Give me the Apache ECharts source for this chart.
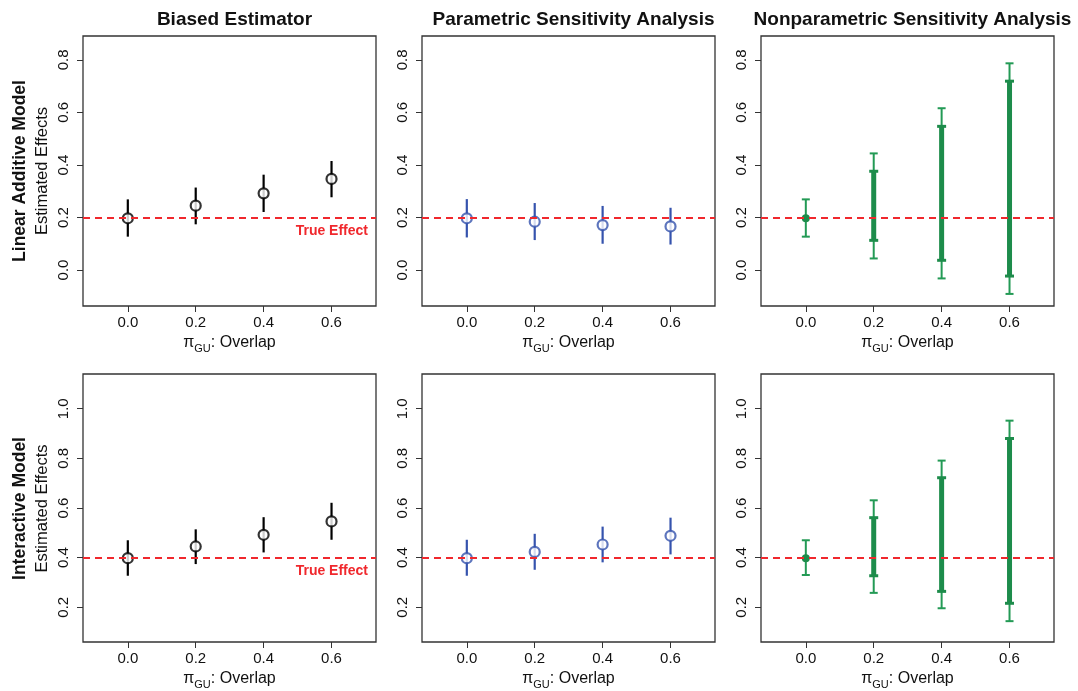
<!DOCTYPE html>
<html>
<head>
<meta charset="utf-8">
<title>Sensitivity analysis of estimated effects</title>
<script src="https://cdn.jsdelivr.net/npm/echarts@6/dist/echarts.min.js"></script>
<style>
  html, body { margin: 0; padding: 0; background: #fff; }
  #chart { width: 1078px; height: 691px; }
</style>
</head>
<body>
<div id="chart"></div>
<script>
// Overlap values on the x axis and tick labels
const overlap = [0, 0.2, 0.4, 0.6];
const xTicks = [0, 0.2, 0.4, 0.6];
const yTicksLinear = [0, 0.2, 0.4, 0.6, 0.8];
const yTicksInteractive = [0.2, 0.4, 0.6, 0.8, 1.0];

// True effects
const trueLinear = 0.2;
const trueInteractive = 0.4;

// Linear additive model
const biasedLinEst = [0.197, 0.245, 0.292, 0.347];
const biasedLinLo  = [0.127, 0.174, 0.221, 0.277];
const biasedLinHi  = [0.269, 0.314, 0.363, 0.415];

const paramLinEst = [0.197, 0.184, 0.171, 0.166];
const paramLinLo  = [0.124, 0.114, 0.100, 0.097];
const paramLinHi  = [0.270, 0.255, 0.244, 0.237];

const nonparLinOuterLo = [0.127, 0.044, -0.032, -0.091];
const nonparLinOuterHi = [0.269, 0.444, 0.616, 0.787];
const nonparLinInnerLo = [0.197, 0.113, 0.037, -0.023];
const nonparLinInnerHi = [0.197, 0.376, 0.547, 0.719];

// Interactive model
const biasedIntEst = [0.398, 0.445, 0.492, 0.546];
const biasedIntLo  = [0.327, 0.374, 0.421, 0.472];
const biasedIntHi  = [0.470, 0.514, 0.563, 0.621];

const paramIntEst = [0.398, 0.423, 0.453, 0.488];
const paramIntLo  = [0.327, 0.351, 0.381, 0.413];
const paramIntHi  = [0.472, 0.496, 0.525, 0.561];

const nonparIntOuterLo = [0.330, 0.258, 0.196, 0.144];
const nonparIntOuterHi = [0.470, 0.631, 0.791, 0.952];
const nonparIntInnerLo = [0.398, 0.327, 0.264, 0.216];
const nonparIntInnerHi = [0.398, 0.561, 0.722, 0.880];

const FONT = '"Liberation Sans", Arial, Helvetica, sans-serif';
const BLACK = '#000000';
const BLUE = '#3553ad';
const GREEN = '#1d8c4b';
const RED = '#f0282d';

const colLeft = [83, 422, 761];
const rowTop = [36, 374];
const panelW = 293;
const panelH = [270, 269];
const yRange = [[-0.137, 0.891], [0.06, 1.14]];

function triples(lo, hi) {
  return overlap.map((x, i) => [x, lo[i], hi[i]]);
}
function points(est) {
  return overlap.map((x, i) => [x, est[i]]);
}

// Vertical interval, optionally with end caps; a zero-width interval becomes a dot
function intervalRenderer(color, width, capHalf, capWidth) {
  return function (params, api) {
    const x = api.value(0), lo = api.value(1), hi = api.value(2);
    const p1 = api.coord([x, lo]);
    const p2 = api.coord([x, hi]);
    if (lo === hi) {
      return { type: 'circle', shape: { cx: p1[0], cy: p1[1], r: 4 },
               style: { fill: color } };
    }
    const children = [{
      type: 'line',
      shape: { x1: p1[0], y1: p1[1], x2: p2[0], y2: p2[1] },
      style: { stroke: color, lineWidth: width }
    }];
    if (capHalf > 0) {
      [p1, p2].forEach(p => children.push({
        type: 'line',
        shape: { x1: p[0] - capHalf, y1: p[1], x2: p[0] + capHalf, y2: p[1] },
        style: { stroke: color, lineWidth: capWidth }
      }));
    }
    return { type: 'group', children: children };
  };
}

const grids = [], xAxes = [], yAxes = [], series = [];

function addPanel(row, col) {
  const idx = grids.length;
  grids.push({
    left: colLeft[col], top: rowTop[row], width: panelW, height: panelH[row],
    show: true, borderColor: '#333', borderWidth: 1.3, backgroundColor: 'transparent'
  });
  xAxes.push({
    type: 'value', gridIndex: idx, min: -0.132, max: 0.731, position: 'bottom',
    axisLine: { show: false, onZero: false }, splitLine: { show: false },
    axisTick: { show: true, length: 6, customValues: xTicks, lineStyle: { color: '#333', width: 1 } },
    axisLabel: { customValues: xTicks, formatter: v => v.toFixed(1), fontSize: 15,
                 color: '#111', fontFamily: FONT, margin: 9 },
    name: '{pi|π}{sub|GU}{pi|: Overlap}', nameLocation: 'middle', nameGap: 27,
    nameTextStyle: {
      fontFamily: FONT, color: '#111',
      rich: {
        pi: { fontSize: 16, fontFamily: FONT, color: '#111', lineHeight: 18, verticalAlign: 'bottom' },
        sub: { fontSize: 11, fontFamily: FONT, color: '#111', lineHeight: 18, verticalAlign: 'bottom', padding: [0, 0, -3, 0] }
      }
    }
  });
  const ticks = row === 0 ? yTicksLinear : yTicksInteractive;
  yAxes.push({
    type: 'value', gridIndex: idx, min: yRange[row][0], max: yRange[row][1], position: 'left',
    axisLine: { show: false, onZero: false }, splitLine: { show: false },
    axisTick: { show: true, length: 6, customValues: ticks, lineStyle: { color: '#333', width: 1 } },
    axisLabel: { customValues: ticks, formatter: v => v.toFixed(1), fontSize: 15, rotate: 90,
                 color: '#111', fontFamily: FONT, margin: 12 }
  });
  return idx;
}

function addTruthLine(idx, value, withLabel) {
  series.push({
    type: 'line', xAxisIndex: idx, yAxisIndex: idx, data: [], z: 10, silent: true,
    markLine: {
      symbol: 'none', silent: true, animation: false,
      lineStyle: { color: RED, type: [7, 5], width: 2 },
      label: withLabel ? {
        show: true, position: 'insideEndBottom', formatter: 'True Effect',
        color: RED, fontWeight: 'bold', fontSize: 14, fontFamily: FONT, distance: [8, 7]
      } : { show: false },
      data: [{ yAxis: value }]
    }
  });
}

function addPointPanel(idx, est, lo, hi, color) {
  series.push({
    type: 'custom', xAxisIndex: idx, yAxisIndex: idx, z: 2, clip: true,
    renderItem: intervalRenderer(color, 2.2, 0, 0),
    data: triples(lo, hi)
  });
  series.push({
    type: 'scatter', xAxisIndex: idx, yAxisIndex: idx, z: 3,
    symbol: 'circle', symbolSize: 10,
    itemStyle: { color: '#fff', borderColor: color, borderWidth: 2.2 },
    data: points(est)
  });
}

function addBoundsPanel(idx, oLo, oHi, iLo, iHi) {
  series.push({
    type: 'custom', xAxisIndex: idx, yAxisIndex: idx, z: 2, clip: true,
    renderItem: intervalRenderer('#239a55', 2, 4, 2),
    data: triples(oLo, oHi)
  });
  series.push({
    type: 'custom', xAxisIndex: idx, yAxisIndex: idx, z: 3, clip: true,
    renderItem: intervalRenderer(GREEN, 5, 4.5, 3),
    data: triples(iLo, iHi)
  });
}

// Row 1: linear additive model
let p = addPanel(0, 0);
addPointPanel(p, biasedLinEst, biasedLinLo, biasedLinHi, BLACK);
addTruthLine(p, trueLinear, true);
p = addPanel(0, 1);
addPointPanel(p, paramLinEst, paramLinLo, paramLinHi, BLUE);
addTruthLine(p, trueLinear, false);
p = addPanel(0, 2);
addBoundsPanel(p, nonparLinOuterLo, nonparLinOuterHi, nonparLinInnerLo, nonparLinInnerHi);
addTruthLine(p, trueLinear, false);

// Row 2: interactive model
p = addPanel(1, 0);
addPointPanel(p, biasedIntEst, biasedIntLo, biasedIntHi, BLACK);
addTruthLine(p, trueInteractive, true);
p = addPanel(1, 1);
addPointPanel(p, paramIntEst, paramIntLo, paramIntHi, BLUE);
addTruthLine(p, trueInteractive, false);
p = addPanel(1, 2);
addBoundsPanel(p, nonparIntOuterLo, nonparIntOuterHi, nonparIntInnerLo, nonparIntInnerHi);
addTruthLine(p, trueInteractive, false);

const columnTitles = ['Biased Estimator', 'Parametric Sensitivity Analysis', 'Nonparametric Sensitivity Analysis'];
const rowTitles = ['Linear Additive Model', 'Interactive Model'];
const yAxisTitle = 'Estimated Effects';

const titles = columnTitles.map((t, i) => ({
  text: t, left: colLeft[i] + panelW / 2, top: 5, textAlign: 'center',
  textStyle: { fontFamily: FONT, fontWeight: 'bold', fontSize: 19, color: '#111' }
}));

const graphics = [];
rowTitles.forEach((t, r) => {
  const cy = rowTop[r] + panelH[r] / 2;
  graphics.push({
    type: 'text', x: 20, y: cy, rotation: Math.PI / 2,
    style: { text: t, fontFamily: FONT, fontWeight: 'bold', fontSize: 17.5, fill: '#111',
             align: 'center', verticalAlign: 'middle' }
  });
  graphics.push({
    type: 'text', x: 42, y: cy, rotation: Math.PI / 2,
    style: { text: yAxisTitle, fontFamily: FONT, fontSize: 16.5, fill: '#111',
             align: 'center', verticalAlign: 'middle' }
  });
});

const chart = echarts.init(document.getElementById('chart'), null, { renderer: 'canvas' });
chart.setOption({
  animation: false,
  backgroundColor: '#fff',
  title: titles,
  grid: grids,
  xAxis: xAxes,
  yAxis: yAxes,
  series: series,
  graphic: graphics
});
</script>
</body>
</html>
